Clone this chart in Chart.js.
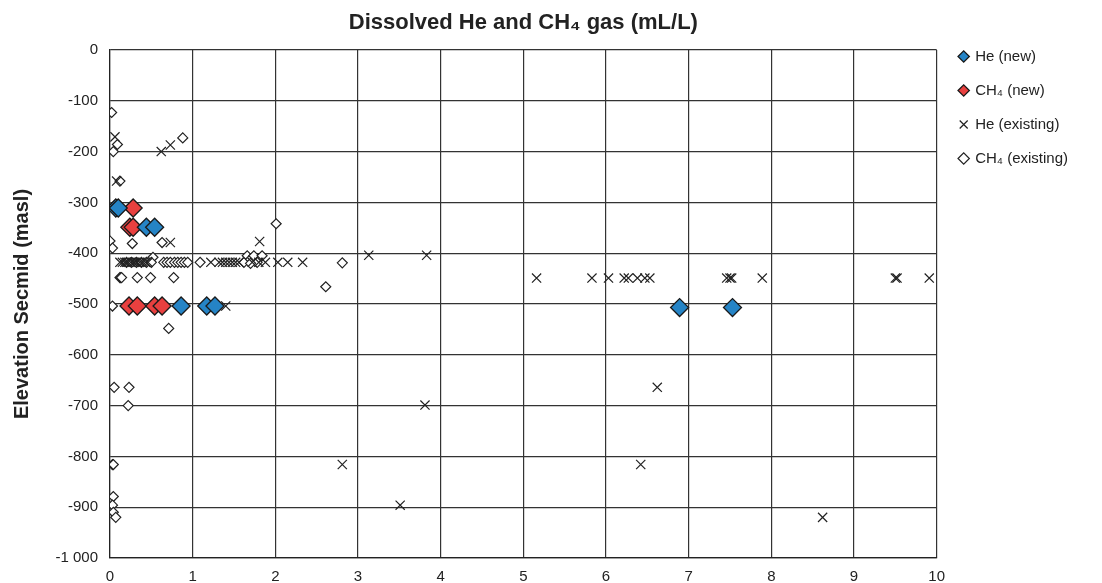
<!DOCTYPE html>
<html>
<head>
<meta charset="utf-8">
<script src="https://cdn.jsdelivr.net/npm/chart.js@4"></script>
<style>
  body { margin: 0; background: #fff; }
</style>
</head>
<body>
<canvas id="grafica" width="1102" height="583"></canvas>
<script>
// He (new)
const heNewX = [0.07, 0.10, 0.44, 0.54, 0.86, 1.17, 1.27, 6.89, 7.53];
const heNewY = [-311, -311, -349, -349, -504, -504, -504, -507, -507];

// CH4 (new)
const ch4NewX = [0.28, 0.24, 0.28, 0.23, 0.33, 0.54, 0.63];
const ch4NewY = [-311, -349, -349, -504, -504, -504, -504];

// He (existing)
const heExX = [0.06, 0.62, 0.73, 0.08, 0.73, 1.81,
  0.12, 0.15, 0.18, 0.20, 0.22, 0.25, 0.28, 0.30, 0.33, 0.36, 0.40, 0.43, 0.46,
  1.22, 1.32, 1.36, 1.40, 1.44, 1.48, 1.52, 1.56, 1.72, 1.80, 1.88, 2.03, 2.15, 2.33,
  3.13, 3.83, 1.40, 3.81, 2.81, 3.51, 6.62, 6.42, 8.62,
  5.16, 5.83, 6.03, 6.22, 6.27, 6.38, 6.47, 6.53, 7.46, 7.50, 7.52, 7.89, 9.50, 9.52, 9.91];
const heExY = [-171, -200, -187, -258, -379, -377,
  -418, -418, -418, -418, -418, -418, -418, -418, -418, -418, -418, -418, -418,
  -418, -418, -418, -418, -418, -418, -418, -418, -418, -418, -418, -418, -418, -418,
  -404, -404, -504, -699, -816, -896, -664, -816, -920,
  -449, -449, -449, -449, -449, -449, -449, -449, -449, -449, -449, -449, -449, -449, -449];

// CH4 (existing)
const ch4ExX = [0.02, 0.09, 0.04, 0.88, 0.12, 2.01, 0.00, 0.03, 0.27, 0.63, 0.52,
  0.20, 0.26, 0.32, 0.38, 0.44, 0.50, 0.65, 0.69, 0.73, 0.78, 0.82, 0.86, 0.90, 0.94, 1.09, 1.62,
  1.66, 1.70, 1.74, 1.78, 1.84, 1.70, 2.81, 2.61,
  0.12, 0.13, 0.14, 0.33, 0.49, 0.77,
  0.03, 0.71, 0.05, 0.23, 0.22, 0.03, 0.04, 0.04, 0.03, 0.04, 0.07];
const ch4ExY = [-123, -186, -200, -173, -258, -342, -376, -390, -381, -379, -408,
  -418, -418, -418, -418, -418, -418, -418, -418, -418, -418, -418, -418, -418, -418, -418, -418,
  -405, -412, -405, -418, -405, -420, -419, -466,
  -448, -448, -448, -448, -448, -448,
  -504, -548, -664, -664, -700, -816, -816, -879, -896, -910, -920];

const xTicks = [0, 1, 2, 3, 4, 5, 6, 7, 8, 9, 10];
const yTicks = [0, -100, -200, -300, -400, -500, -600, -700, -800, -900, -1000];

const tituloTexto = 'Dissolved He and CH\u2084 gas (mL/L)';
const fuente = "'Liberation Sans', Arial, sans-serif";

const puntos = (xs, ys) => xs.map((x, i) => ({ x: x, y: ys[i] }));

// title centred over the plot area, legend pulled up a bit
const tituloPlugin = {
    id: 'tituloPlugin',
    afterLayout(chart) {
        chart.legend.top -= 20;
        chart.legend.left += 4;
    },
    afterDraw(chart) {
        const ctx = chart.ctx;
        const area = chart.chartArea;
        ctx.save();
        ctx.font = 'bold 22px ' + fuente;
        ctx.fillStyle = '#222';
        ctx.textAlign = 'center';
        ctx.textBaseline = 'middle';
        ctx.fillText(tituloTexto, (area.left + area.right) / 2, 23);
        ctx.restore();
    }
};

const instancia = document.getElementById('grafica').getContext('2d');
const myChart = new Chart(instancia, {
    type: 'scatter',
    data: {
        datasets: [{
            label: 'He (new)',
            data: puntos(heNewX, heNewY),
            pointStyle: 'rectRot',
            pointRadius: 9,
            backgroundColor: '#2584c6',
            borderColor: '#1a1a1a',
            borderWidth: 1.3
        }, {
            label: 'CH\u2084 (new)',
            data: puntos(ch4NewX, ch4NewY),
            pointStyle: 'rectRot',
            pointRadius: 9,
            backgroundColor: '#e8403f',
            borderColor: '#1a1a1a',
            borderWidth: 1.3
        }, {
            label: 'He (existing)',
            data: puntos(heExX, heExY),
            pointStyle: 'crossRot',
            pointRadius: 6.5,
            backgroundColor: '#222',
            borderColor: '#222',
            borderWidth: 1.2
        }, {
            label: 'CH\u2084 (existing)',
            data: puntos(ch4ExX, ch4ExY),
            pointStyle: 'rectRot',
            pointRadius: 5,
            backgroundColor: '#ffffff',
            borderColor: '#222',
            borderWidth: 1.2
        }]
    },
    options: {
        responsive: false,
        animation: false,
        layout: {
            padding: { top: 50, right: 28, bottom: 0, left: 0 }
        },
        plugins: {
            title: { display: false },
            tooltip: { enabled: false },
            legend: {
                position: 'right',
                align: 'start',
                labels: {
                    usePointStyle: true,
                    boxWidth: 8,
                    boxHeight: 8,
                    padding: 19,
                    color: '#222',
                    font: { family: fuente, size: 15 }
                }
            }
        },
        scales: {
            x: {
                type: 'linear',
                min: 0,
                max: 10,
                afterBuildTicks: (scale) => { scale.ticks = xTicks.map(v => ({ value: v })); },
                afterFit: (scale) => { scale.height = 25; },
                grid: { color: '#333', lineWidth: 1.2, drawTicks: false },
                border: { color: '#222', width: 1.2 },
                ticks: {
                    padding: 10,
                    color: '#222',
                    font: { family: fuente, size: 15 }
                }
            },
            y: {
                type: 'linear',
                min: -1000,
                max: 0,
                afterBuildTicks: (scale) => { scale.ticks = yTicks.map(v => ({ value: v })); },
                afterFit: (scale) => { scale.width = 110; },
                grid: { color: '#333', lineWidth: 1.2, drawTicks: false },
                border: { color: '#222', width: 1.2 },
                title: {
                    display: true,
                    text: 'Elevation Secmid (masl)',
                    color: '#222',
                    font: { family: fuente, size: 20, weight: 'bold' },
                    padding: { top: 10, bottom: 4 }
                },
                ticks: {
                    padding: 12,
                    color: '#222',
                    font: { family: fuente, size: 15 },
                    callback: (v) => {
                        const s = String(Math.abs(v)).replace(/\B(?=(\d{3})+(?!\d))/g, ' ');
                        return (v < 0 ? '-' : '') + s;
                    }
                }
            }
        }
    },
    plugins: [tituloPlugin]
});
</script>
</body>
</html>
